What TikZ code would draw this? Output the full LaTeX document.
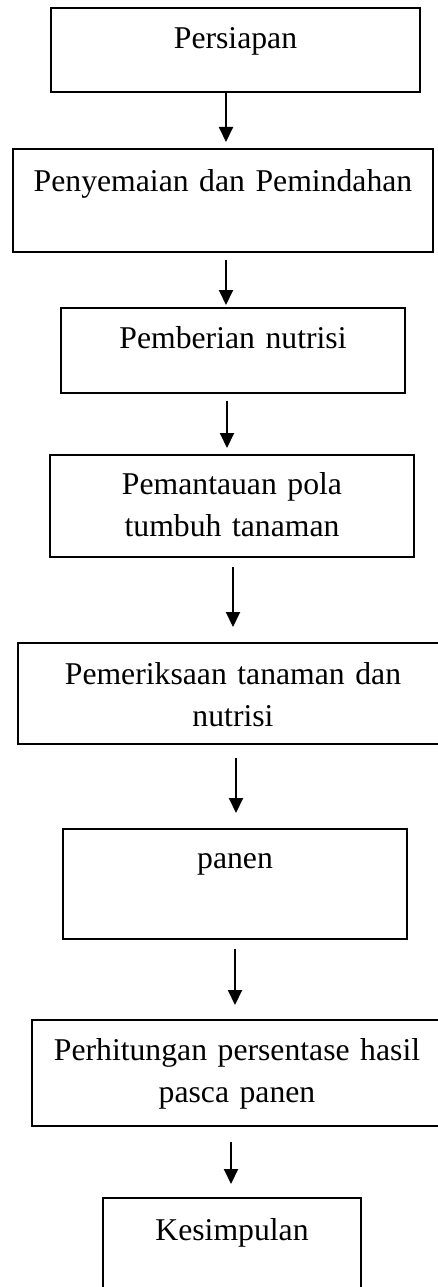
\documentclass[tikz,border=0pt]{standalone}
\usepackage{fontspec}
\setmainfont{Liberation Serif}
\usetikzlibrary{arrows.meta}

\tikzstyle{stepbox}=[draw, line width=2pt, anchor=north, inner sep=0pt, align=center]
\tikzstyle{flow}=[line width=2pt, -{Triangle[width=14pt,length=15pt]}]

\begin{document}
\begin{tikzpicture}[x=1pt, y=-1pt, font=\fontsize{31.7pt}{42pt}\selectfont]
    \useasboundingbox (0,0) rectangle (438,1287);
    \node[stepbox, text width=369pt, text height=41pt, text depth=43pt] (n1) at (235.5,7) {Persiapan};
    \node[stepbox, text width=420pt, text height=42pt, text depth=61pt] (n2) at (223,148) {Penyemaian dan Pemindahan};
    \node[stepbox, text width=344pt, text height=40pt, text depth=45pt] (n3) at (233,307) {Pemberian nutrisi};
    \node[stepbox, text width=364pt, text height=39pt, text depth=63pt] (n4) at (232,454) {Pemantauan pola\\tumbuh tanaman};
    \node[stepbox, text width=430pt, text height=41pt, text depth=60pt] (n5) at (233,642) {Pemeriksaan tanaman dan\\nutrisi};
    \node[stepbox, text width=344pt, text height=39pt, text depth=71pt] (n6) at (235,828) {panen};
    \node[stepbox, text width=410pt, text height=40pt, text depth=66pt] (n7) at (237,1019) {Perhitungan persentase hasil\\pasca panen};
    \node[stepbox, text width=258pt, text height=42pt, text depth=70pt] (n8) at (232,1197) {Kesimpulan};
    \path[draw]
    (n1.south -| 226,0) edge[flow, shorten >=6pt] (n2.north -| 226,0)
    (n2.south -| 226,0) edge[flow, shorten <=7pt, shorten >=2pt] (n3.north -| 226,0)
    (n3.south -| 227,0) edge[flow, shorten <=7pt, shorten >=6pt] (n4.north -| 227,0)
    (n4.south -| 233,0) edge[flow, shorten <=9pt, shorten >=15pt] (n5.north -| 233,0)
    (n5.south -| 236,0) edge[flow, shorten <=13pt, shorten >=15pt] (n6.north -| 236,0)
    (n6.south -| 235,0) edge[flow, shorten <=9pt, shorten >=14pt] (n7.north -| 235,0)
    (n7.south -| 231,0) edge[flow, shorten <=15pt, shorten >=13pt] (n8.north -| 231,0)
	;
  \end{tikzpicture}
\end{document}
